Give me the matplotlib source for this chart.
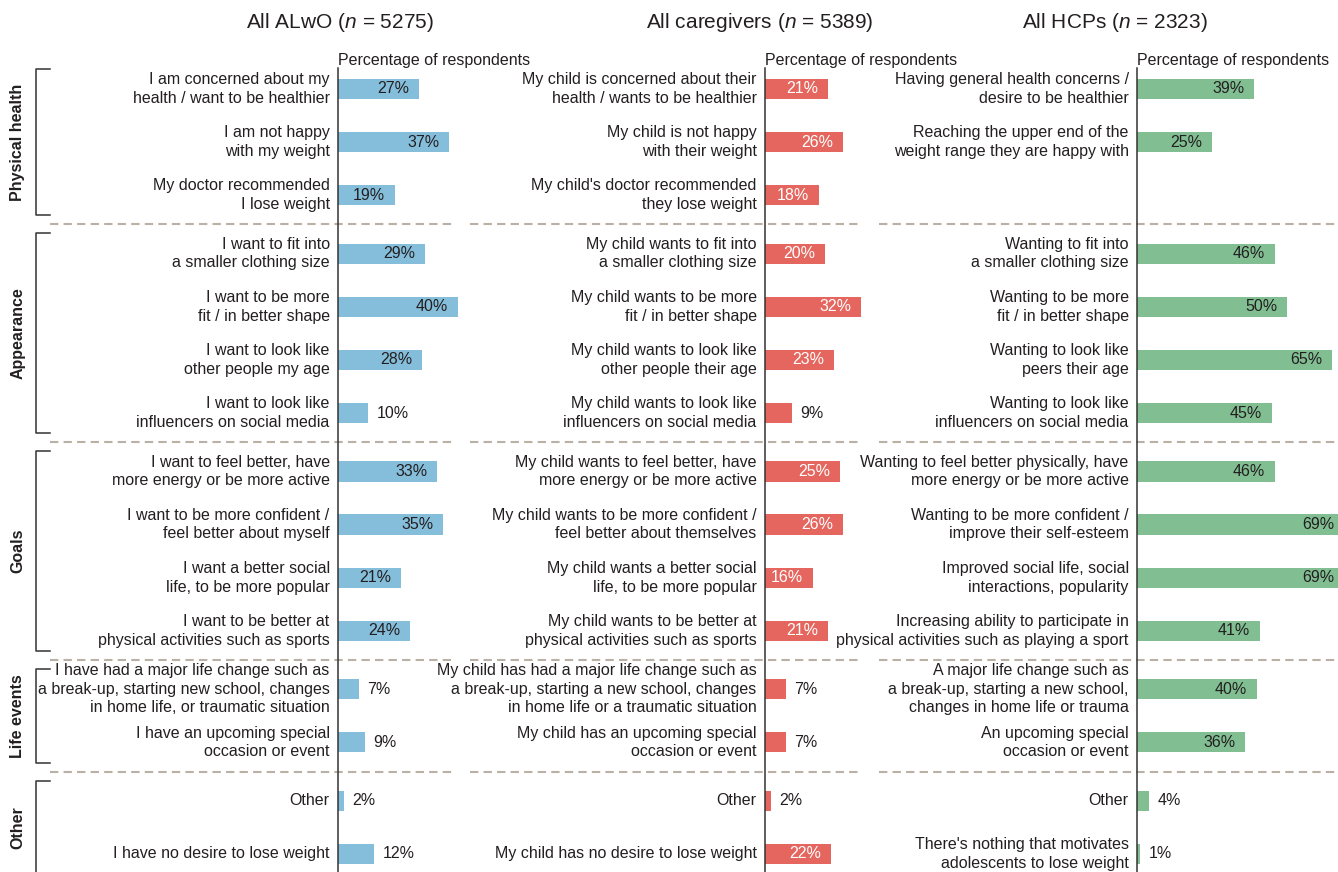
import numpy as np
import matplotlib.pyplot as plt
from matplotlib import transforms

plt.rcParams['font.family'] = ['Liberation Sans', 'DejaVu Sans']
plt.rcParams['mathtext.fontset'] = 'custom'
plt.rcParams['mathtext.rm'] = 'Liberation Sans'
plt.rcParams['mathtext.it'] = 'Liberation Sans:italic'

groups = ["Physical health", "Appearance", "Goals", "Life events", "Other"]
group_sizes = [3, 4, 4, 2, 2]

alwo_labels = [
    "I am concerned about my\nhealth / want to be healthier",
    "I am not happy\nwith my weight",
    "My doctor recommended\nI lose weight",
    "I want to fit into\na smaller clothing size",
    "I want to be more\nfit / in better shape",
    "I want to look like\nother people my age",
    "I want to look like\ninfluencers on social media",
    "I want to feel better, have\nmore energy or be more active",
    "I want to be more confident /\nfeel better about myself",
    "I want a better social\nlife, to be more popular",
    "I want to be better at\nphysical activities such as sports",
    "I have had a major life change such as\na break-up, starting new school, changes\nin home life, or traumatic situation",
    "I have an upcoming special\noccasion or event",
    "Other",
    "I have no desire to lose weight",
]
alwo_values = [27, 37, 19, 29, 40, 28, 10, 33, 35, 21, 24, 7, 9, 2, 12]

care_labels = [
    "My child is concerned about their\nhealth / wants to be healthier",
    "My child is not happy\nwith their weight",
    "My child's doctor recommended\nthey lose weight",
    "My child wants to fit into\na smaller clothing size",
    "My child wants to be more\nfit / in better shape",
    "My child wants to look like\nother people their age",
    "My child wants to look like\ninfluencers on social media",
    "My child wants to feel better, have\nmore energy or be more active",
    "My child wants to be more confident /\nfeel better about themselves",
    "My child wants a better social\nlife, to be more popular",
    "My child wants to be better at\nphysical activities such as sports",
    "My child has had a major life change such as\na break-up, starting a new school, changes\nin home life or a traumatic situation",
    "My child has an upcoming special\noccasion or event",
    "Other",
    "My child has no desire to lose weight",
]
care_values = [21, 26, 18, 20, 32, 23, 9, 25, 26, 16, 21, 7, 7, 2, 22]

hcp_labels = [
    "Having general health concerns /\ndesire to be healthier",
    "Reaching the upper end of the\nweight range they are happy with",
    "",
    "Wanting to fit into\na smaller clothing size",
    "Wanting to be more\nfit / in better shape",
    "Wanting to look like\npeers their age",
    "Wanting to look like\ninfluencers on social media",
    "Wanting to feel better physically, have\nmore energy or be more active",
    "Wanting to be more confident /\nimprove their self-esteem",
    "Improved social life, social\ninteractions, popularity",
    "Increasing ability to participate in\nphysical activities such as playing a sport",
    "A major life change such as\na break-up, starting a new school,\nchanges in home life or trauma",
    "An upcoming special\noccasion or event",
    "Other",
    "There's nothing that motivates\nadolescents to lose weight",
]
hcp_values = [39, 25, None, 46, 50, 65, 45, 46, 69, 69, 41, 40, 36, 4, 1]

titles = ["All ALwO ($n$ = 5275)", "All caregivers ($n$ = 5389)", "All HCPs ($n$ = 2323)"]
colors = ["#85bedb", "#e4665e", "#81bf93"]
inside_text = ["#231f20", "white", "#231f20"]
txt = "#231f20"

# row positions: unit pitch, small extra gap between groups
ypos = []
gidx = []
for g, n in enumerate(group_sizes):
    for k in range(n):
        ypos.append(len(ypos) + 0.1 * g)
        gidx.append(g)
ypos = np.array(ypos)
gidx = np.array(gidx)

W, H = 1338, 872
fig = plt.figure(figsize=(W / 100, H / 100), dpi=100)

top_px = 68
ax_h = (H - top_px) / H
panels = [
    (338, 45, alwo_labels, alwo_values),
    (765, 45, care_labels, care_values),
    (1137, 67, hcp_labels, hcp_values),
]
title_x = [340, 760, 1115]
sep_x = [(50, 456), (470, 862), (879, 1338)]

axes = []
for i, (x0, xmax, labels, values) in enumerate(panels):
    ax = fig.add_axes([x0 / W, 0, xmax * 3 / W, ax_h])
    ax.set_facecolor('none')
    ax.set_xlim(0, xmax)
    ax.set_ylim(ypos[-1] + 0.34, -0.395)
    for s in ['top', 'right', 'bottom']:
        ax.spines[s].set_visible(False)
    ax.spines['left'].set_color('#333333')
    ax.spines['left'].set_linewidth(1.1)
    ax.set_xticks([])
    ax.set_yticks(ypos)
    ax.set_yticklabels(labels, fontsize=11.5, color=txt, va='center', linespacing=1.3)
    ax.tick_params(axis='y', length=0, pad=6)

    for y, v in zip(ypos, values):
        if v is None:
            continue
        ax.barh(y, v, height=0.38, color=colors[i])
        if v >= 15:
            ax.annotate(f"{v}%", xy=(v, y), xytext=(-7, 0), textcoords='offset points',
                        ha='right', va='center', fontsize=11.5, color=inside_text[i],
                        annotation_clip=False)
        else:
            ax.annotate(f"{v}%", xy=(v, y), xytext=(6, 0), textcoords='offset points',
                        ha='left', va='center', fontsize=11.5, color=txt,
                        annotation_clip=False)

    ax.text(0, 1, "Percentage of respondents", transform=ax.transAxes,
            ha='left', va='bottom', fontsize=11.5, color=txt)
    fig.text(title_x[i] / W, 1 - 22 / H, titles[i], ha='center', va='center',
             fontsize=15, color=txt)

    # dashed separators between groups
    tr = transforms.blended_transform_factory(fig.transFigure, ax.transData)
    for g in range(len(groups) - 1):
        ya = ypos[gidx == g][-1]
        yb = ypos[gidx == g + 1][0]
        ax.plot([sep_x[i][0] / W, sep_x[i][1] / W], [(ya + yb) / 2] * 2, transform=tr,
                color='#bbb0a5', lw=1.5, dashes=(4, 2.5), clip_on=False)
    axes.append(ax)

# brackets and group names on the left
ax = axes[0]
tr = transforms.blended_transform_factory(fig.transFigure, ax.transData)
for g, name in enumerate(groups):
    ys = ypos[gidx == g]
    y1, y2 = ys[0] - 0.38, ys[-1] + 0.38
    ax.plot([50 / W, 36 / W, 36 / W, 50 / W], [y1, y1, y2, y2], transform=tr,
            color='#333333', lw=1.1, clip_on=False)
    ax.text(18 / W, (ys[0] + ys[-1]) / 2, name, transform=tr, rotation=90,
            ha='center', va='center', fontsize=11.5, fontweight='bold', color=txt)

fig.savefig("out.png", dpi=100)
